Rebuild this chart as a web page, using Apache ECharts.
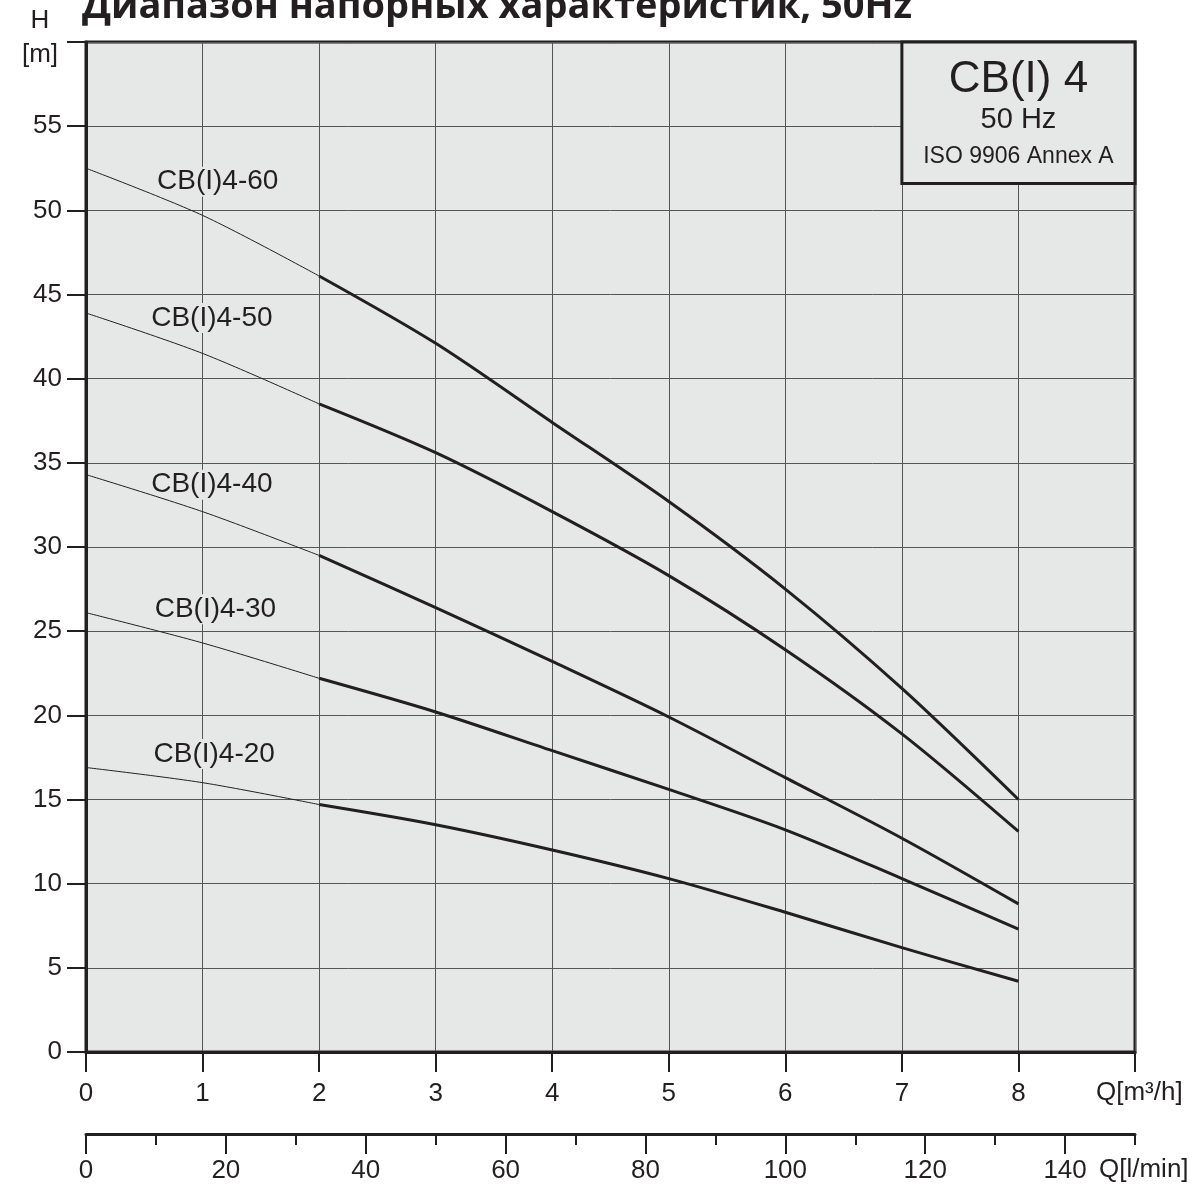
<!DOCTYPE html>
<html><head><meta charset="utf-8">
<script src="https://cdn.jsdelivr.net/npm/echarts@6/dist/echarts.min.js"></script>
<style>html,body{margin:0;padding:0;background:#fff}#c{width:1201px;height:1187px}</style>
</head><body><div id="c"></div>
<script>
// Flow rate Q [m3/h]
const flowQ = [0, 1, 2, 3, 4, 5, 6, 7, 8];
// Head H [m] per pump model
const head4_20 = [16.9, 16.0, 14.7, 13.5, 12.0, 10.3, 8.3, 6.2, 4.2];
const head4_30 = [26.1, 24.3, 22.2, 20.2, 17.9, 15.6, 13.2, 10.3, 7.3];
const head4_40 = [34.3, 32.1, 29.5, 26.4, 23.2, 19.9, 16.3, 12.7, 8.8];
const head4_50 = [43.9, 41.5, 38.5, 35.6, 32.1, 28.3, 23.9, 18.9, 13.1];
const head4_60 = [52.5, 49.7, 46.1, 42.1, 37.4, 32.7, 27.5, 21.6, 15.0];
const modelNames = ['CB(I)4-20', 'CB(I)4-30', 'CB(I)4-40', 'CB(I)4-50', 'CB(I)4-60'];
// label anchor in data units
const labelQ = [1.10, 1.11, 1.08, 1.08, 1.13];
const labelH = [17.7, 26.3, 33.7, 43.6, 51.7];
// tick labels
const qTicks = [0, 1, 2, 3, 4, 5, 6, 7, 8];
const hTicks = [0, 5, 10, 15, 20, 25, 30, 35, 40, 45, 50, 55];
const lminMajor = [0, 20, 40, 60, 80, 100, 120, 140];
const lminMinor = [10, 30, 50, 70, 90, 110, 130, 150];
const titleText = 'Диапазон напорных характеристик, 50Hz';

const INK = '#231f20';
const FONT = '"Liberation Sans", Arial, sans-serif';
const heads = [head4_20, head4_30, head4_40, head4_50, head4_60];

const series = [];
heads.forEach((h, i) => {
  const pts = flowQ.map((q, k) => [q, h[k]]);
  series.push({
    type: 'line', name: modelNames[i] + ' low', xAxisIndex: 0, yAxisIndex: 0,
    data: pts.filter(p => p[0] <= 2), showSymbol: false, smooth: 0.3,
    lineStyle: { color: INK, width: 1 }, silent: true, z: 5
  });
  series.push({
    type: 'line', name: modelNames[i], xAxisIndex: 0, yAxisIndex: 0,
    data: pts.filter(p => p[0] >= 2), showSymbol: false, smooth: 0.3,
    lineStyle: { color: INK, width: 3 }, silent: true, z: 5
  });
});
series.push({
  type: 'scatter', xAxisIndex: 0, yAxisIndex: 0, symbolSize: 1, z: 3, silent: true,
  itemStyle: { opacity: 1, color: 'rgba(0,0,0,0)' },
  data: modelNames.map((n, i) => ({ value: [labelQ[i], labelH[i]], name: n })),
  label: {
    show: true, position: 'inside', formatter: p => p.name,
    fontFamily: FONT, fontSize: 28, color: INK, opacity: 1,
    backgroundColor: '#e6e7e7', padding: [1, 2]
  }
});

const chart = echarts.init(document.getElementById('c'), null, { renderer: 'canvas' });
chart.setOption({
  animation: false,
  backgroundColor: '#ffffff',
  grid: {
    left: 86, right: 66, top: 42, bottom: 135, show: true,
    backgroundColor: '#e6e7e7', borderColor: INK, borderWidth: 3
  },
  xAxis: [
    {
      type: 'value', min: 0, max: 9, interval: 1, position: 'bottom',
      axisLine: { show: true, lineStyle: { color: INK, width: 3 } },
      axisTick: { show: true, length: 20, lineStyle: { color: INK, width: 2 } },
      axisLabel: { customValues: qTicks, margin: 29, fontFamily: FONT, fontSize: 26, color: INK },
      splitLine: { show: true, lineStyle: { color: '#555', width: 1 } }
    },
    {
      type: 'value', min: 0, max: 150, position: 'bottom', offset: 82,
      axisLine: { show: true, lineStyle: { color: INK, width: 3 } },
      axisTick: { show: true, customValues: lminMajor, length: 20, lineStyle: { color: INK, width: 2 } },
      axisLabel: { customValues: lminMajor, margin: 24, fontFamily: FONT, fontSize: 26, color: INK },
      splitLine: { show: false }
    },
    {
      type: 'value', min: 0, max: 150, position: 'bottom', offset: 82,
      axisLine: { show: false },
      axisTick: { show: true, customValues: lminMinor, length: 11, lineStyle: { color: INK, width: 2 } },
      axisLabel: { show: false },
      splitLine: { show: false }
    }
  ],
  yAxis: {
    type: 'value', min: 0, max: 60, interval: 5,
    axisLine: { show: true, lineStyle: { color: INK, width: 3 } },
    axisTick: { show: true, length: 19, lineStyle: { color: INK, width: 2 } },
    axisLabel: { customValues: hTicks, margin: 24, fontFamily: FONT, fontSize: 26, color: INK },
    splitLine: { show: true, lineStyle: { color: '#555', width: 1 } }
  },
  series: series
});

// annotation box and texts positioned from the axes
const tl = chart.convertToPixel({ xAxisIndex: 0, yAxisIndex: 0 }, [7, 60]);
const br = chart.convertToPixel({ xAxisIndex: 0, yAxisIndex: 0 }, [9, 51.6]);
const cx = (tl[0] + br[0]) / 2;
const axisRight = br[0];
const y0 = chart.convertToPixel({ yAxisIndex: 0 }, 0);
chart.setOption({
  graphic: [
    { type: 'rect', z: 20, shape: { x: tl[0], y: tl[1], width: br[0] - tl[0], height: br[1] - tl[1] },
      style: { fill: '#e6e7e7', stroke: INK, lineWidth: 3 } },
    { type: 'text', z: 21, x: cx, y: tl[1] + 38, style: { text: 'CB(I) 4', font: '44px ' + FONT, fill: INK, align: 'center', verticalAlign: 'middle' } },
    { type: 'text', z: 21, x: cx, y: tl[1] + 78, style: { text: '50 Hz', font: '29px ' + FONT, fill: INK, align: 'center', verticalAlign: 'middle' } },
    { type: 'text', z: 21, x: cx, y: tl[1] + 115, style: { text: 'ISO 9906 Annex A', font: '23px ' + FONT, fill: INK, align: 'center', verticalAlign: 'middle' } },
    { type: 'text', z: 21, x: 497, y: 7, style: { text: titleText, font: 'bold 38px "Open Sans", sans-serif', fill: INK, align: 'center', verticalAlign: 'middle' } },
    { type: 'text', z: 21, x: 40, y: 21, style: { text: 'H', font: '26px ' + FONT, fill: INK, align: 'center', verticalAlign: 'middle' } },
    { type: 'text', z: 21, x: 40, y: 55, style: { text: '[m]', font: '26px ' + FONT, fill: INK, align: 'center', verticalAlign: 'middle' } },
    { type: 'text', z: 21, x: axisRight - 39, y: y0 + 41, style: { text: 'Q[m³/h]', font: '26px ' + FONT, fill: INK, align: 'left', verticalAlign: 'middle' } },
    { type: 'text', z: 21, x: axisRight - 36, y: y0 + 118, style: { text: 'Q[l/min]', font: '26px ' + FONT, fill: INK, align: 'left', verticalAlign: 'middle' } }
  ]
});
</script>
</body></html>
